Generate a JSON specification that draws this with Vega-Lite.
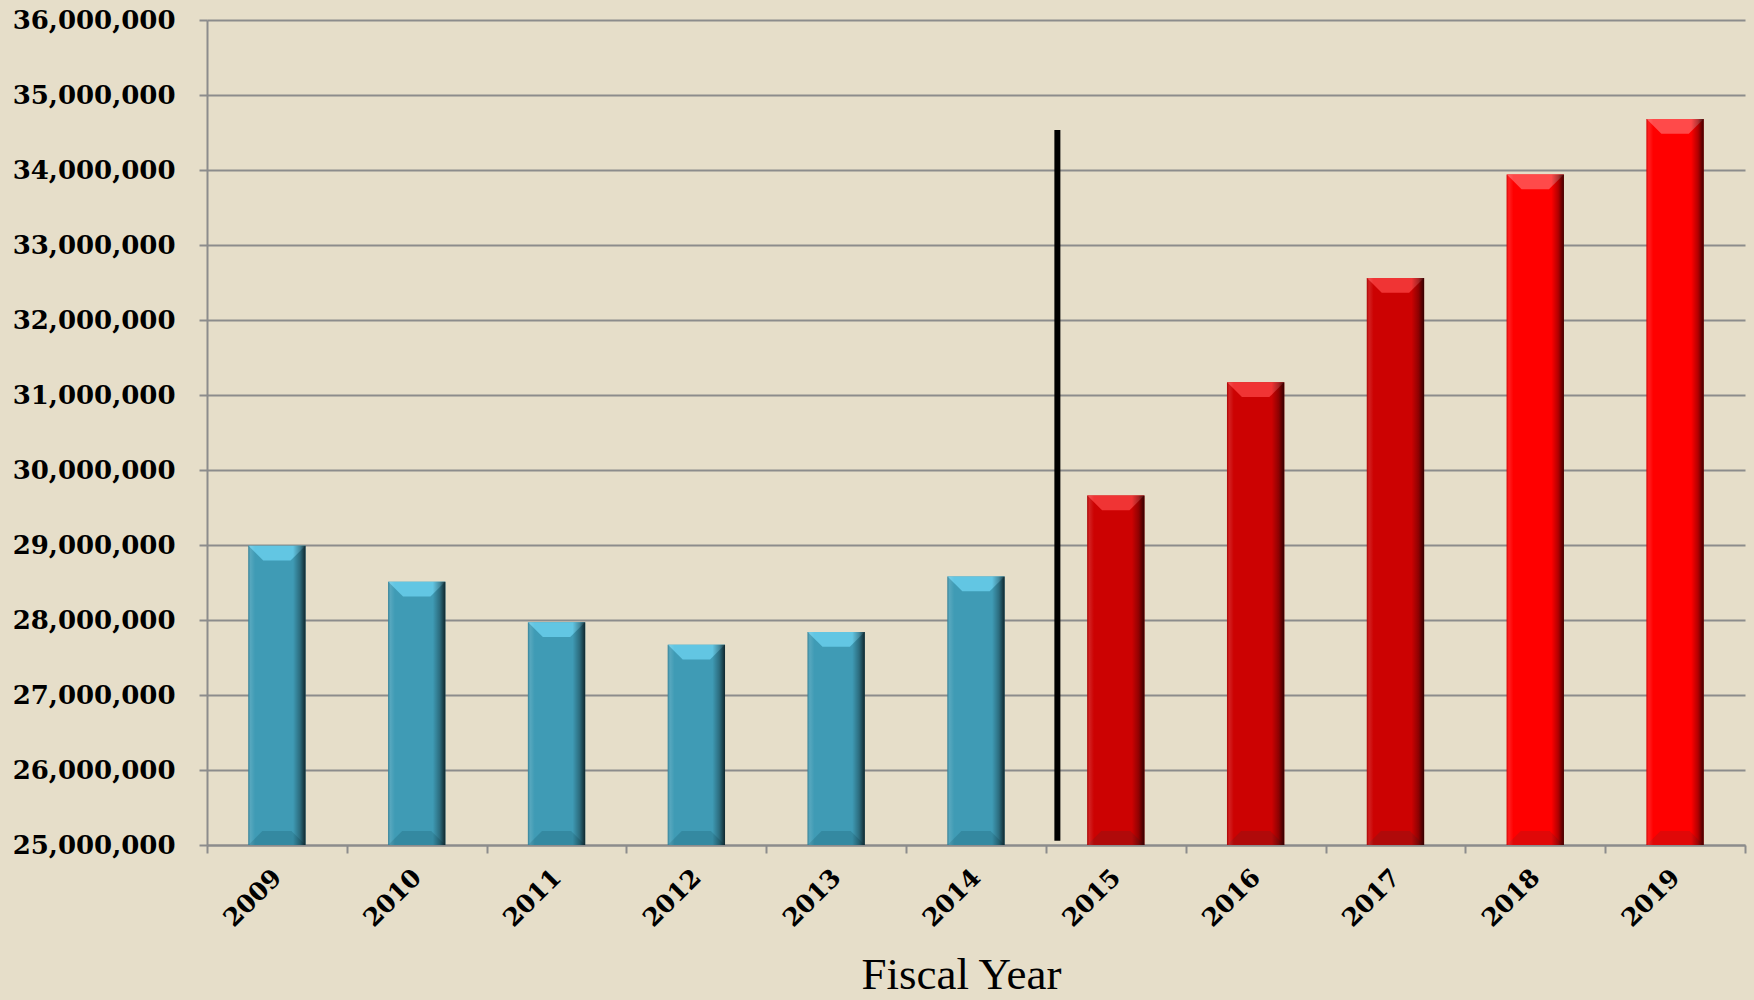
{
  "$schema": "https://vega.github.io/schema/vega-lite/v6.json",
  "width": 1538,
  "height": 825,
  "autosize": "none",
  "padding": {"left": 207, "top": 20, "right": 9, "bottom": 155},
  "background": "#E6DEC9",
  "config": {"view": {"stroke": null}},
  "datasets": {
    "budget": [
      {"year": "2009", "value": 28990000, "status": "actual"},
      {"year": "2010", "value": 28510000, "status": "actual"},
      {"year": "2011", "value": 27970000, "status": "actual"},
      {"year": "2012", "value": 27670000, "status": "actual"},
      {"year": "2013", "value": 27840000, "status": "actual"},
      {"year": "2014", "value": 28580000, "status": "actual"},
      {"year": "2015", "value": 29660000, "status": "budgeted"},
      {"year": "2016", "value": 31170000, "status": "budgeted"},
      {"year": "2017", "value": 32560000, "status": "budgeted"},
      {"year": "2018", "value": 33940000, "status": "projected"},
      {"year": "2019", "value": 34680000, "status": "projected"}
    ],
    "divider": [
      {"year": "2015", "from": 25057000, "to": 34533000}
    ]
  },
  "layer": [
    {
      "data": {"name": "budget"},
      "mark": {"type": "bar", "width": {"band": 0.41}, "clip": true},
      "encoding": {
        "x": {
          "field": "year",
          "type": "ordinal",
          "scale": {"paddingInner": 0, "paddingOuter": 0},
          "axis": {
            "tickBand": "extent",
            "labelAngle": -45,
            "labelBaseline": "middle",
            "labelFont": "DejaVu Serif",
            "labelFontWeight": "bold",
            "labelFontSize": 25,
            "labelColor": "#000000",
            "labelPadding": 20,
            "tickSize": 8,
            "tickColor": "#8C8C8C",
            "tickWidth": 2,
            "domainColor": "#8C8C8C",
            "domainWidth": 2,
            "grid": false,
            "title": "Fiscal Year",
            "titleFont": "Liberation Serif",
            "titleFontSize": 45,
            "titleFontWeight": "normal",
            "titleColor": "#000000",
            "titleBaseline": "alphabetic",
            "titleX": 754,
            "titleY": 143
          }
        },
        "y": {
          "field": "value",
          "type": "quantitative",
          "scale": {"domain": [25000000, 36000000], "zero": false, "nice": false},
          "axis": {
            "values": [25000000, 26000000, 27000000, 28000000, 29000000, 30000000, 31000000, 32000000, 33000000, 34000000, 35000000, 36000000],
            "format": ",d",
            "labelFont": "DejaVu Serif",
            "labelFontWeight": "bold",
            "labelFontSize": 26,
            "labelColor": "#000000",
            "labelPadding": 24,
            "tickSize": 8,
            "tickColor": "#8C8C8C",
            "tickWidth": 2,
            "grid": true,
            "gridColor": "#8C8C8C",
            "gridWidth": 2,
            "domainColor": "#8C8C8C",
            "domainWidth": 2,
            "title": null
          }
        },
        "color": {
          "field": "status",
          "type": "nominal",
          "scale": {"domain": ["actual", "budgeted", "projected"], "range": ["#3F9BB5", "#CC0202", "#FF0000"]},
          "legend": null
        }
      }
    },
    {
      "data": {"name": "budget"},
      "mark": {
        "type": "point",
        "shape": "M -1 0 L 1 0 L 0.48 0.52 L -0.48 0.52 Z",
        "size": 3249,
        "filled": true,
        "strokeWidth": 0,
        "opacity": 1
      },
      "encoding": {
        "x": {"field": "year", "type": "ordinal"},
        "y": {"field": "value", "type": "quantitative"},
        "color": {
          "field": "status",
          "type": "nominal",
          "scale": {"domain": ["actual", "budgeted", "projected"], "range": ["#62C6E3", "#F03434", "#FF4A4A"]},
          "legend": null
        }
      }
    },
    {
      "data": {"name": "budget"},
      "mark": {
        "type": "point",
        "shape": "M -1 0 L 1 0 L 0.51 -0.49 L -0.51 -0.49 Z",
        "size": 3249,
        "filled": true,
        "strokeWidth": 0,
        "opacity": 1
      },
      "encoding": {
        "x": {"field": "year", "type": "ordinal"},
        "y": {"datum": 25000000, "type": "quantitative"},
        "fill": {
          "field": "status",
          "type": "nominal",
          "scale": {"domain": ["actual", "budgeted", "projected"], "range": ["#3489A1", "#B00A0A", "#E00808"]},
          "legend": null
        }
      }
    },
    {
      "data": {"name": "budget"},
      "mark": {
        "type": "bar",
        "width": {"band": 0.41},
        "clip": true,
        "fill": {
          "gradient": "linear",
          "x1": 0, "x2": 1, "y1": 0, "y2": 0,
          "stops": [
            {"offset": 0, "color": "rgba(0,0,0,0.18)"},
            {"offset": 0.04, "color": "rgba(255,255,255,0.12)"},
            {"offset": 0.12, "color": "rgba(255,255,255,0)"},
            {"offset": 0.78, "color": "rgba(0,0,0,0)"},
            {"offset": 0.9, "color": "rgba(0,0,0,0.3)"},
            {"offset": 1, "color": "rgba(0,0,0,0.75)"}
          ]
        }
      },
      "encoding": {
        "x": {"field": "year", "type": "ordinal"},
        "y": {"field": "value", "type": "quantitative"}
      }
    },
    {
      "data": {"name": "divider"},
      "mark": {"type": "rule", "color": "#000000", "strokeWidth": 6},
      "encoding": {
        "x": {"field": "year", "type": "ordinal", "bandPosition": 0.082},
        "y": {"field": "from", "type": "quantitative"},
        "y2": {"field": "to"}
      }
    }
  ],
  "resolve": {"scale": {"color": "independent", "fill": "independent"}}
}
